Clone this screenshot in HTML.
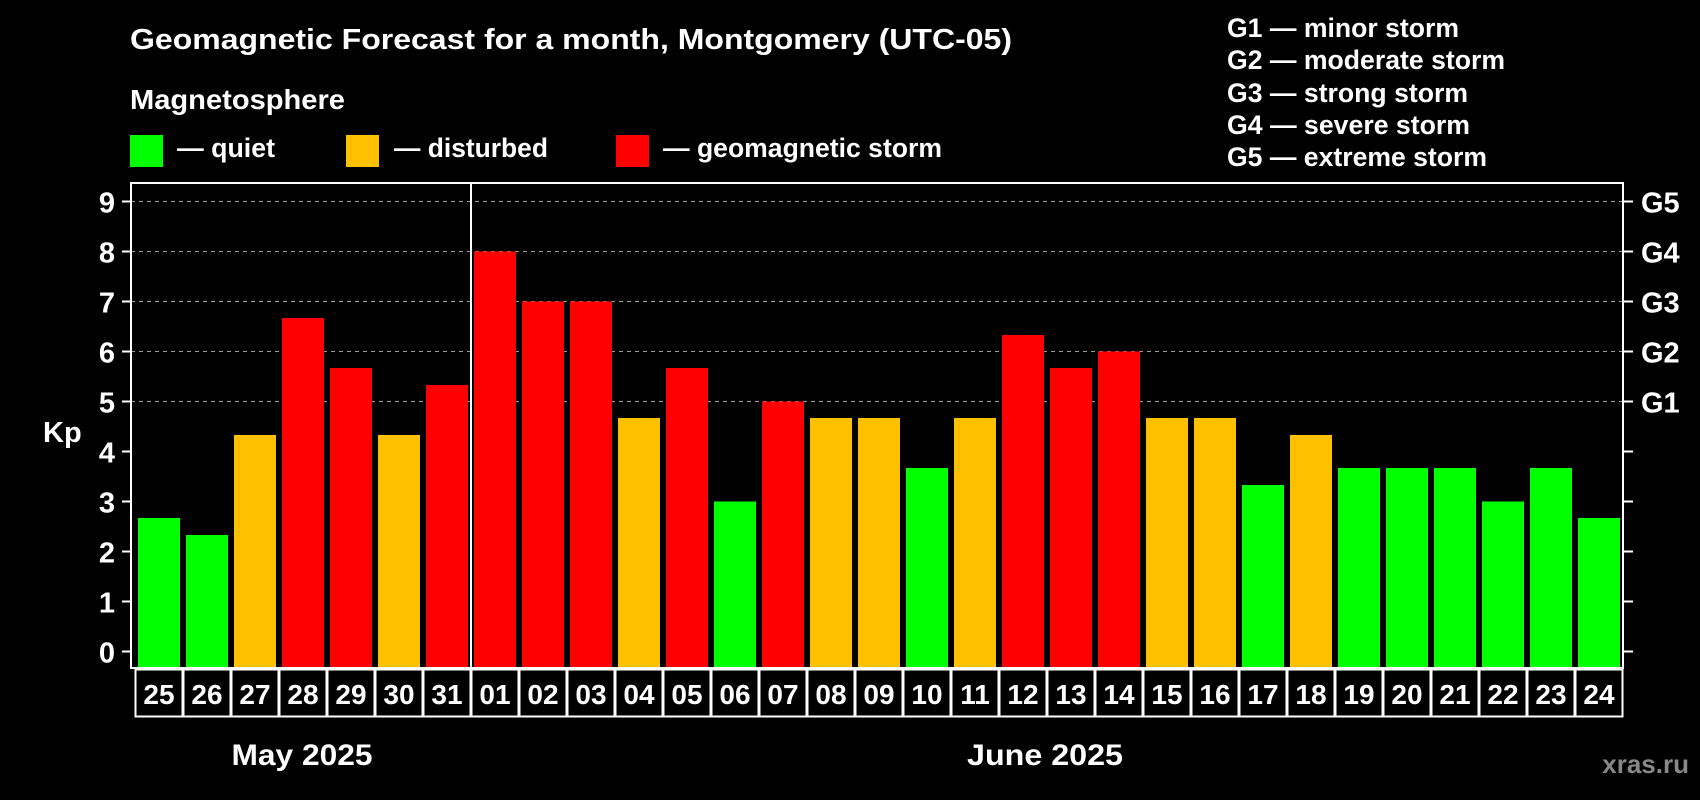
<!DOCTYPE html>
<html><head><meta charset="utf-8"><style>
html,body{margin:0;padding:0;background:#000;}
svg{display:block;font-family:"Liberation Sans",sans-serif;font-weight:bold;}
</style></head><body>
<svg id="chart" width="1700" height="800" viewBox="0 0 1700 800">
<rect x="0" y="0" width="1700" height="800" fill="#000"/>
<text x="130" y="49" fill="#fff" font-size="29" textLength="882" lengthAdjust="spacingAndGlyphs">Geomagnetic Forecast for a month, Montgomery (UTC-05)</text>
<text x="130" y="109" fill="#fff" font-size="28" textLength="215" lengthAdjust="spacingAndGlyphs">Magnetosphere</text>
<g><rect x="130" y="135" width="33" height="32" fill="#00ff00"/><text x="177" y="157" fill="#fff" font-size="27" textLength="98" lengthAdjust="spacingAndGlyphs">— quiet</text></g>
<g><rect x="346" y="135" width="33" height="32" fill="#ffc000"/><text x="394" y="157" fill="#fff" font-size="27" textLength="154" lengthAdjust="spacingAndGlyphs">— disturbed</text></g>
<g><rect x="616" y="135" width="33" height="32" fill="#ff0000"/><text x="663" y="157" fill="#fff" font-size="27" textLength="279" lengthAdjust="spacingAndGlyphs">— geomagnetic storm</text></g>
<g fill="#fff" font-size="27">
<text x="1227" y="37" textLength="232" lengthAdjust="spacingAndGlyphs">G1 — minor storm</text>
<text x="1227" y="69" textLength="278" lengthAdjust="spacingAndGlyphs">G2 — moderate storm</text>
<text x="1227" y="102" textLength="241" lengthAdjust="spacingAndGlyphs">G3 — strong storm</text>
<text x="1227" y="134" textLength="243" lengthAdjust="spacingAndGlyphs">G4 — severe storm</text>
<text x="1227" y="166" textLength="260" lengthAdjust="spacingAndGlyphs">G5 — extreme storm</text>
</g>
<text x="43" y="442" fill="#fff" font-size="29">Kp</text>
<g id="grid"></g><g id="bars"></g><g id="axes"></g>
<text x="302" y="765" fill="#fff" font-size="30" text-anchor="middle" textLength="141" lengthAdjust="spacingAndGlyphs">May 2025</text>
<text x="1045" y="765" fill="#fff" font-size="30" text-anchor="middle" textLength="156" lengthAdjust="spacingAndGlyphs">June 2025</text>
<text x="1689" y="773" fill="#888" font-size="26" text-anchor="end">xras.ru</text>
</svg>
<script>
const days = ["25","26","27","28","29","30","31","01","02","03","04","05","06","07","08","09","10","11","12","13","14","15","16","17","18","19","20","21","22","23","24"];
const kpValues = [2.67,2.33,4.33,6.67,5.67,4.33,5.33,8,7,7,4.67,5.67,3,5,4.67,4.67,3.67,4.67,6.33,5.67,6,4.67,4.67,3.33,4.33,3.67,3.67,3.67,3,3.67,2.67];
const yTicks = [0,1,2,3,4,5,6,7,8,9];
const gLabels = ["G1","G2","G3","G4","G5"];
const gLevels = [5,6,7,8,9];
const monthBreakIndex = 7;

const NS="http://www.w3.org/2000/svg";
const L=131,R=1623,T=183,B=668;
const y0=651.5,unit=50;
const pitch=48,firstCenter=159,barW=42;
function yS(v){return y0-unit*v;}
function xS(i){return firstCenter+pitch*i;}
function mk(tag,attrs,parent){const e=document.createElementNS(NS,tag);for(const k in attrs)e.setAttribute(k,attrs[k]);parent.appendChild(e);return e;}
function color(v){return v>=5?"#ff0000":(v>=4?"#ffc000":"#00ff00");}
const grid=document.getElementById('grid'),bars=document.getElementById('bars'),axes=document.getElementById('axes');
gLevels.forEach((g,i)=>{
  const ln=mk('line',{x1:L,x2:R,y1:yS(g),y2:yS(g),stroke:'#999','stroke-width':1,'stroke-dasharray':'4,4'},grid);
  
  
  const t=mk('text',{x:1641,y:yS(g)+11,fill:'#fff','font-size':29},axes);
  t.textContent=gLabels[i];
  
  
});
kpValues.forEach((v,i)=>{
  const r=mk('rect',{x:xS(i)-barW/2,y:yS(v),width:barW,height:B-yS(v),fill:color(v)},bars);
  
  
  const b=mk('rect',{x:xS(i)-24+0.5,y:669.5,width:47,height:47,fill:'none',stroke:'#fff','stroke-width':2},axes);
  
  
  const t=mk('text',{x:xS(i),y:704,fill:'#fff','font-size':28,'text-anchor':'middle'},axes);
  t.textContent=days[i];
  
  
});
yTicks.forEach(v=>{
  const tk=mk('line',{x1:122,x2:L,y1:yS(v),y2:yS(v),stroke:'#fff','stroke-width':2},axes);
  
  
  const tr=mk('line',{x1:R,x2:1633,y1:yS(v),y2:yS(v),stroke:'#fff','stroke-width':2},axes);
  
  
  const t=mk('text',{x:115,y:yS(v)+11,fill:'#fff','font-size':29,'text-anchor':'end'},axes);
  t.textContent=v;
  
  
});
const fr=mk('rect',{x:L,y:T,width:R-L,height:B-T,fill:'none',stroke:'#fff','stroke-width':2},axes);


const mx=xS(monthBreakIndex)-pitch/2;
const md=mk('line',{x1:mx,x2:mx,y1:T,y2:B,stroke:'#fff','stroke-width':2},axes);


</script>
</body></html>
